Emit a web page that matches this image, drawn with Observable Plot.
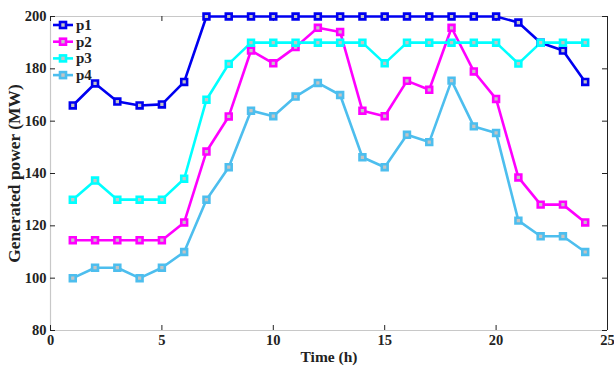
<!DOCTYPE html>
<html><head><meta charset="utf-8">
<script src="https://cdn.jsdelivr.net/npm/d3@7"></script>
<script src="https://cdn.jsdelivr.net/npm/@observablehq/plot@0.6"></script>
<style>
body{margin:0;background:#fff;overflow:hidden;}
#wrap{position:relative;width:614px;height:369px;overflow:hidden;font-family:"Liberation Serif","Times New Roman",serif;font-weight:bold;}
#legend{position:absolute;left:51px;top:16px;}
</style></head>
<body><div id="wrap"><div id="chart"></div><div id="legend"></div></div>
<script>
const hours = d3.range(1, 25);
const seriesNames = ["p1", "p2", "p3", "p4"];
const seriesColors = ["#0000f0", "#ff00ff", "#00ffff", "#4dbeee"];
const p1 = [166, 174.4, 167.5, 166, 166.4, 175, 200, 200, 200, 200, 200, 200, 200, 200, 200, 200, 200, 200, 200, 200, 197.7, 190, 187, 175];
const p2 = [114.5, 114.5, 114.5, 114.5, 114.5, 121.3, 148.4, 161.8, 187, 182.1, 188.3, 195.7, 194.1, 164, 161.9, 175.4, 172, 195.7, 179, 168.5, 138.5, 128.1, 128.1, 121.3];
const p3 = [130, 137.3, 130, 130, 130, 138, 168.2, 181.9, 190, 190, 190, 190, 190, 190, 182.1, 190, 190, 190, 190, 190, 182, 190, 190, 190];
const p4 = [100, 104, 104, 100, 104, 110, 130, 142.4, 164, 161.9, 169.4, 174.6, 170, 146.2, 142.4, 154.8, 152, 175.5, 158, 155.5, 122, 116, 116, 110];
const xTicks = [0, 5, 10, 15, 20, 25];
const yTicks = [80, 100, 120, 140, 160, 180, 200];
const allSeries = [p1, p2, p3, p4];

const data = [];
allSeries.forEach((vals, i) => vals.forEach((v, j) => data.push({h: hours[j], v, s: seriesNames[i]})));

const W = 614, H = 369, mL = 50, mR = 7, mT = 16, mB = 39;
const yPerPx = (200 - 80) / (H - mT - mB);
const xPerPx = 25 / (W - mL - mR);
const tk = 5;

const marks = [
  Plot.ruleY([80], {stroke: "#c8c8c8", strokeWidth: 1.2}),
  Plot.ruleY([200], {stroke: "#c8c8c8", strokeWidth: 1.2}),
  Plot.ruleX([0], {y1: 80, y2: 200, stroke: "#c8c8c8", strokeWidth: 1.2}),
  Plot.ruleX([25], {y1: 80, y2: 200, stroke: "#222", strokeWidth: 1}),
  Plot.ruleX(xTicks, {x: d => d, y1: 80, y2: 80 + tk * yPerPx, stroke: "#222"}),
  Plot.ruleX(xTicks, {x: d => d, y1: 200, y2: 200 - tk * yPerPx, stroke: "#222"}),
  Plot.ruleY(yTicks, {y: d => d, x1: 0, x2: tk * xPerPx, stroke: "#222"}),
  Plot.ruleY(yTicks, {y: d => d, x1: 25, x2: 25 - tk * xPerPx, stroke: "#222"}),
  Plot.line(data, {x: "h", y: "v", z: "s", stroke: "s", strokeWidth: 2.6}),
  Plot.dot(data, {x: "h", y: "v", stroke: "s", symbol: "square", r: 3.3, fill: "#c4c4c4", strokeWidth: 2.6}),
  Plot.axisX(xTicks, {tickSize: 0, tickPadding: 4, fontSize: 14.5, fontWeight: "bold", fill: "#222", label: null}),
  Plot.axisY(yTicks, {tickSize: 0, tickPadding: 4, fontSize: 14.5, fontWeight: "bold", fill: "#222", label: null}),
  Plot.text(["Time (h)"], {frameAnchor: "bottom", lineAnchor: "bottom", dy: 31, fontSize: 15.5, fontWeight: "bold", fill: "#222"}),
  Plot.text(["Generated power (MW)"], {frameAnchor: "left", textAnchor: "middle", lineAnchor: "middle", dx: -36, rotate: -90, fontSize: 17.4, fontWeight: "bold", fill: "#222"})
];

const chart = Plot.plot({
  width: W, height: H,
  marginLeft: mL, marginRight: mR, marginTop: mT, marginBottom: mB,
  style: {fontFamily: "'Liberation Serif','Times New Roman',serif", background: "#fff", overflow: "visible"},
  x: {domain: [0, 25]},
  y: {domain: [80, 200]},
  color: {domain: seriesNames, range: seriesColors},
  marks
});
document.getElementById("chart").appendChild(chart);

// legend
const lg = d3.select("#legend").append("svg").attr("width", 60).attr("height", 70);
seriesNames.forEach((n, i) => {
  const g = lg.append("g").attr("transform", `translate(0,${9 + i * 16.7})`);
  g.append("line").attr("x1", 2).attr("x2", 22).attr("stroke", seriesColors[i]).attr("stroke-width", 2.6);
  g.append("rect").attr("x", 12 - 3).attr("y", -3).attr("width", 6).attr("height", 6)
    .attr("fill", "#c4c4c4").attr("stroke", seriesColors[i]).attr("stroke-width", 2.6);
  g.append("text").attr("x", 25).attr("y", 5).text(n).attr("font-size", 15).attr("font-weight", "bold")
    .attr("font-family", "'Liberation Serif','Times New Roman',serif").attr("fill", "#222");
});
</script></body></html>
